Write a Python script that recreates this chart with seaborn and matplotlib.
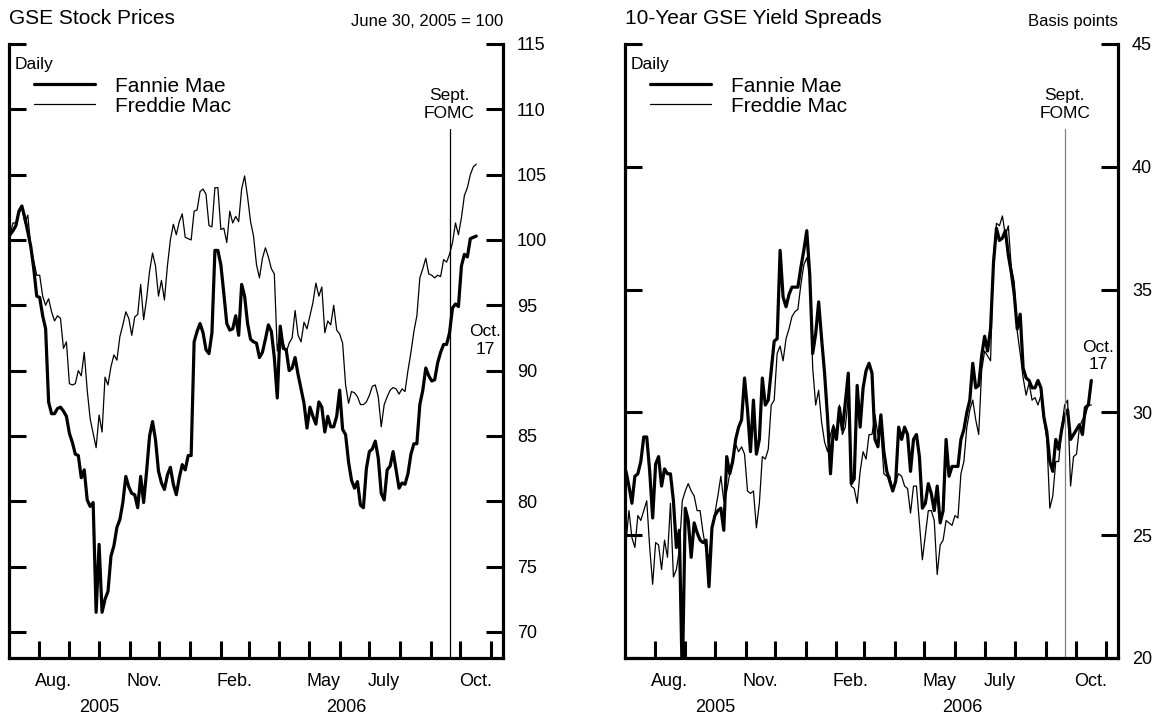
import pandas as pd
import matplotlib.pyplot as plt
import matplotlib.dates as mdates
import matplotlib.transforms as mtransforms
from matplotlib.ticker import NullFormatter
import seaborn as sns

# valores, amostra a cada 3 dias (30/jun/2005 a 17/out/2006)
dates = pd.date_range('2005-06-30', '2006-10-17', freq='3D')

fannie_stock = [
    100.0, 100.4, 100.7, 101.1, 102.2, 102.6, 101.7, 100.6, 99.5, 97.8,
    95.7, 95.6, 94.2, 93.2, 87.6, 86.7, 86.7, 87.1, 87.2, 86.9,
    86.5, 85.2, 84.5, 83.6, 83.5, 81.8, 82.4, 80.1, 79.6, 79.9,
    71.5, 76.7, 71.5, 72.5, 73.1, 75.8, 76.6, 78.0, 78.6, 79.9,
    81.9, 81.1, 80.6, 80.5, 79.5, 81.9, 79.9, 82.3, 85.0, 86.1,
    84.7, 82.3, 81.4, 80.9, 82.0, 82.6, 81.3, 80.5, 81.8, 82.8,
    82.4, 83.5, 83.5, 92.2, 93.0, 93.6, 92.9, 91.6, 91.3, 92.9,
    99.2, 99.2, 98.1, 95.9, 93.6, 93.1, 93.2, 94.2, 92.7, 96.6,
    95.7, 93.6, 92.4, 92.2, 92.1, 91.0, 91.4, 92.4, 93.5, 93.0,
    91.0, 87.9, 93.4, 91.7, 91.6, 90.0, 90.2, 91.0, 89.7, 88.6,
    87.5, 85.6, 87.2, 86.5, 85.9, 87.6, 87.2, 85.3, 86.5, 85.7,
    85.7, 86.5, 88.5, 85.5, 85.1, 83.0, 81.6, 81.0, 81.5, 79.7,
    79.5, 82.5, 83.8, 84.0, 84.6, 83.3, 80.6, 80.1, 82.4, 82.7,
    83.8, 82.4, 81.0, 81.4, 81.3, 82.1, 83.6, 84.4, 84.4, 87.4,
    88.5, 90.2, 89.6, 89.2, 89.3, 90.6, 91.4, 92.0, 92.0, 92.9,
    94.8, 95.1, 94.9, 98.0, 98.9, 98.7, 100.1, 100.2, 100.3,
]

freddie_stock = [
    100.0, 100.4, 101.3, 101.3, 102.0, 102.5, 101.3, 101.9, 99.5, 98.4,
    97.3, 97.3, 95.7, 95.0, 95.5, 94.5, 93.8, 94.2, 94.0, 91.7,
    92.2, 89.0, 88.9, 89.0, 90.0, 89.6, 91.4, 88.5, 86.3, 85.2,
    84.1, 86.6, 85.3, 89.5, 88.9, 90.3, 91.2, 90.8, 92.6, 93.5,
    94.5, 94.0, 92.7, 94.1, 94.3, 96.6, 93.9, 95.5, 97.6, 99.0,
    98.0, 95.7, 96.9, 95.4, 98.0, 100.0, 101.2, 100.4, 101.4, 102.0,
    100.2, 100.1, 100.0, 102.2, 102.3, 103.7, 103.9, 103.5, 101.1, 101.0,
    104.0, 104.0, 100.8, 100.9, 99.8, 102.2, 101.3, 101.8, 101.4, 103.9,
    104.9, 103.3, 101.4, 100.3, 98.1, 97.1, 98.6, 99.4, 98.7, 97.8,
    97.4, 91.5, 92.9, 92.1, 91.4, 92.1, 92.5, 94.6, 92.7, 92.2,
    93.7, 93.2, 94.2, 95.2, 96.7, 95.7, 96.4, 92.9, 93.8, 93.5,
    95.0, 93.1, 92.8, 92.1, 88.9, 87.5, 88.4, 88.3, 88.0, 87.4,
    87.4, 87.6, 88.1, 88.8, 88.9, 88.0, 85.7, 87.4, 88.0, 88.5,
    88.7, 88.6, 88.2, 88.6, 88.4, 90.0, 91.4, 93.0, 94.2, 97.1,
    97.8, 98.6, 97.4, 97.3, 97.1, 97.3, 97.2, 98.5, 98.3, 98.9,
    99.8, 101.3, 100.4, 101.7, 103.4, 104.0, 105.0, 105.6, 105.8,
]

fannie_spread = [
    26.1, 27.6, 27.0, 26.3, 27.4, 27.5, 28.0, 29.0, 29.0, 27.6,
    25.7, 27.9, 28.2, 27.0, 27.7, 27.5, 27.5, 26.4, 24.5, 25.2,
    19.0, 26.1, 25.6, 24.1, 25.5, 25.1, 24.8, 24.7, 24.8, 22.9,
    25.3, 25.8, 26.0, 26.1, 25.2, 28.2, 27.5, 28.0, 28.9, 29.4,
    29.7, 31.4, 30.1, 28.4, 30.5, 28.3, 28.9, 31.4, 30.3, 30.5,
    31.7, 32.9, 33.0, 36.6, 34.7, 34.3, 34.8, 35.1, 35.1, 35.1,
    35.9, 36.6, 37.4, 35.6, 32.4, 33.2, 34.5, 33.0, 31.6, 29.8,
    27.5, 29.4, 28.9, 30.2, 29.3, 30.4, 31.6, 27.1, 27.3, 31.1,
    29.4, 31.0, 31.7, 32.0, 31.6, 28.9, 28.6, 29.9, 28.4, 27.6,
    27.2, 26.8, 27.2, 29.4, 28.9, 29.4, 29.1, 27.6, 28.9, 29.1,
    28.2, 26.1, 26.3, 27.1, 26.7, 26.0, 27.0, 25.5, 26.0, 28.9,
    27.4, 27.8, 27.8, 27.8, 28.9, 29.3, 30.0, 30.5, 32.0, 31.0,
    31.1, 32.3, 33.1, 32.5, 33.4, 36.1, 37.5, 37.0, 37.1, 37.4,
    36.4, 35.7, 34.8, 33.4, 34.0, 31.8, 31.4, 31.3, 31.0, 31.0,
    31.3, 31.0, 29.8, 29.2, 28.0, 27.6, 28.9, 28.5, 29.3, 29.9,
    30.1, 28.9, 29.1, 29.3, 29.5, 29.1, 30.2, 30.3, 31.3,
]

freddie_spread = [
    26.3, 24.7, 26.0, 24.9, 24.5, 25.8, 25.6, 26.0, 26.4, 24.5,
    23.0, 24.7, 24.6, 23.6, 24.8, 24.1, 26.3, 23.3, 23.6, 24.4,
    26.4, 26.8, 27.1, 26.8, 26.6, 26.0, 26.0, 25.1, 24.4, 24.1,
    25.2, 25.9, 26.6, 27.4, 26.4, 26.8, 27.5, 28.2, 28.7, 28.4,
    28.6, 28.3, 26.8, 26.7, 26.8, 25.3, 26.3, 28.2, 28.1, 28.5,
    30.3, 30.5, 32.4, 32.7, 32.1, 33.0, 33.4, 33.9, 34.1, 34.2,
    35.2, 36.0, 36.3, 35.6, 31.8, 30.3, 30.9, 29.6, 28.8, 28.4,
    29.1, 29.5, 28.9, 30.3, 29.1, 29.4, 30.6, 27.0, 26.9, 26.3,
    27.6, 28.4, 28.1, 29.1, 29.1, 29.9, 29.1, 29.3, 27.5, 27.4,
    27.4, 26.8, 27.2, 27.5, 27.4, 27.0, 26.9, 25.9, 27.0, 27.0,
    25.5, 24.0, 25.0, 26.0, 26.0, 25.6, 23.4, 24.6, 24.8, 25.6,
    25.5, 25.4, 25.8, 25.7, 27.5, 28.0, 29.4, 30.1, 30.5, 29.7,
    29.1, 31.7, 32.5, 32.3, 32.1, 36.4, 37.7, 37.6, 38.0, 37.2,
    37.6, 35.9, 35.3, 33.3, 32.4, 31.4, 30.7, 31.2, 30.5, 30.6,
    30.3, 30.7, 29.7, 28.9, 26.1, 26.6, 28.0, 28.0, 29.4, 30.3,
    30.5, 27.0, 28.2, 28.3, 29.4, 29.7, 29.9, 30.3, 30.3,
]

month_labels = ['Aug.', 'Nov.', 'Feb.', 'May', 'July', 'Oct.']
month_label_dates = ['2005-08-16', '2005-11-16', '2006-02-15',
                     '2006-05-16', '2006-07-16', '2006-10-16']
year_labels = ['2005', '2006']
fomc_date = '2006-09-20'


def draw_panel(ax, fannie, freddie, title, unit, ylim, yticks, fomc_color, oct_pos):
    df = pd.DataFrame({'date': dates, 'Fannie Mae': fannie, 'Freddie Mac': freddie})
    sns.lineplot(data=df, x='date', y='Fannie Mae', ax=ax, color='black',
                 linewidth=2.3, label='Fannie Mae')
    sns.lineplot(data=df, x='date', y='Freddie Mac', ax=ax, color='black',
                 linewidth=0.9, label='Freddie Mac')

    ax.set_xlim(pd.Timestamp('2005-07-02'), pd.Timestamp('2006-11-13'))
    ax.set_ylim(*ylim)
    ax.set_xlabel('')
    ax.set_ylabel('')

    # moldura: sem borda superior
    ax.spines['top'].set_visible(False)
    for s in ['left', 'right', 'bottom']:
        ax.spines[s].set_linewidth(2.3)
        ax.spines[s].set_color('black')

    # eixo x: traços no início de cada mês, rótulos no meio do mês
    ax.xaxis.set_major_locator(mdates.MonthLocator())
    ax.xaxis.set_major_formatter(NullFormatter())
    ax.set_xticks(pd.to_datetime(month_label_dates), labels=month_labels, minor=True)
    ax.tick_params(axis='x', which='major', direction='in', length=12, width=2.2,
                   bottom=True, top=False, color='black')
    ax.tick_params(axis='x', which='minor', length=0, labelsize=13, pad=11,
                   labelcolor='black')

    ax.set_yticks(yticks)
    ax.tick_params(axis='y', which='major', direction='in', length=12, width=2.2,
                   left=True, right=True, labelleft=False, labelright=True,
                   labelsize=13, pad=10, color='black', labelcolor='black')

    # anos abaixo dos meses
    x0, x1 = ax.get_xlim()
    jan = mdates.date2num(pd.Timestamp('2006-01-01'))
    trans = mtransforms.blended_transform_factory(ax.transData, ax.transAxes)
    ax.text((x0 + jan) / 2, -0.08, year_labels[0], transform=trans,
            ha='center', va='center', fontsize=13)
    ax.text((jan + x1) / 2, -0.08, year_labels[1], transform=trans,
            ha='center', va='center', fontsize=13)

    # títulos
    ax.text(0, 1.041, title, transform=ax.transAxes, ha='left', va='center', fontsize=15)
    ax.text(1, 1.037, unit, transform=ax.transAxes, ha='right', va='center', fontsize=12)
    ax.text(0.012, 0.967, 'Daily', transform=ax.transAxes, ha='left', va='center',
            fontsize=12.5)

    ax.legend(loc='upper left', bbox_to_anchor=(0.05, 0.947), frameon=False,
              fontsize=15, handlelength=2.95, handletextpad=0.95, borderpad=0,
              borderaxespad=0, labelspacing=0.05)

    # reunião do FOMC
    fomc = pd.Timestamp(fomc_date)
    ax.axvline(fomc, ymin=0, ymax=0.862, color=fomc_color, linewidth=0.9)
    ax.text(fomc, 0.901, 'Sept.\nFOMC', transform=trans, ha='center', va='center',
            fontsize=12.5, linespacing=1.25)

    ax.text(pd.Timestamp(oct_pos[0]), oct_pos[1], 'Oct.\n17', ha='center', va='center',
            fontsize=12.5, linespacing=1.2)


def main():
    sns.set_theme(style='white', rc={'text.color': 'black', 'axes.edgecolor': 'black',
                                     'xtick.color': 'black', 'ytick.color': 'black'})
    plt.rcParams['font.family'] = ['Liberation Sans', 'DejaVu Sans']

    fig = plt.figure(figsize=(11.57, 7.19), dpi=100)
    ax1 = fig.add_axes([9 / 1157, 61 / 719, 494 / 1157, 614 / 719])
    ax2 = fig.add_axes([625 / 1157, 61 / 719, 493 / 1157, 614 / 719])

    draw_panel(ax1, fannie_stock, freddie_stock, 'GSE Stock Prices',
               'June 30, 2005 = 100', (68, 115), list(range(70, 116, 5)),
               'black', ('2006-10-26', 92.3))
    draw_panel(ax2, fannie_spread, freddie_spread, '10-Year GSE Yield Spreads',
               'Basis points', (20, 45), list(range(20, 46, 5)),
               '#808080', ('2006-10-24', 32.3))

    fig.savefig('out.png', dpi=100)
    plt.close(fig)


if __name__ == '__main__':
    main()
